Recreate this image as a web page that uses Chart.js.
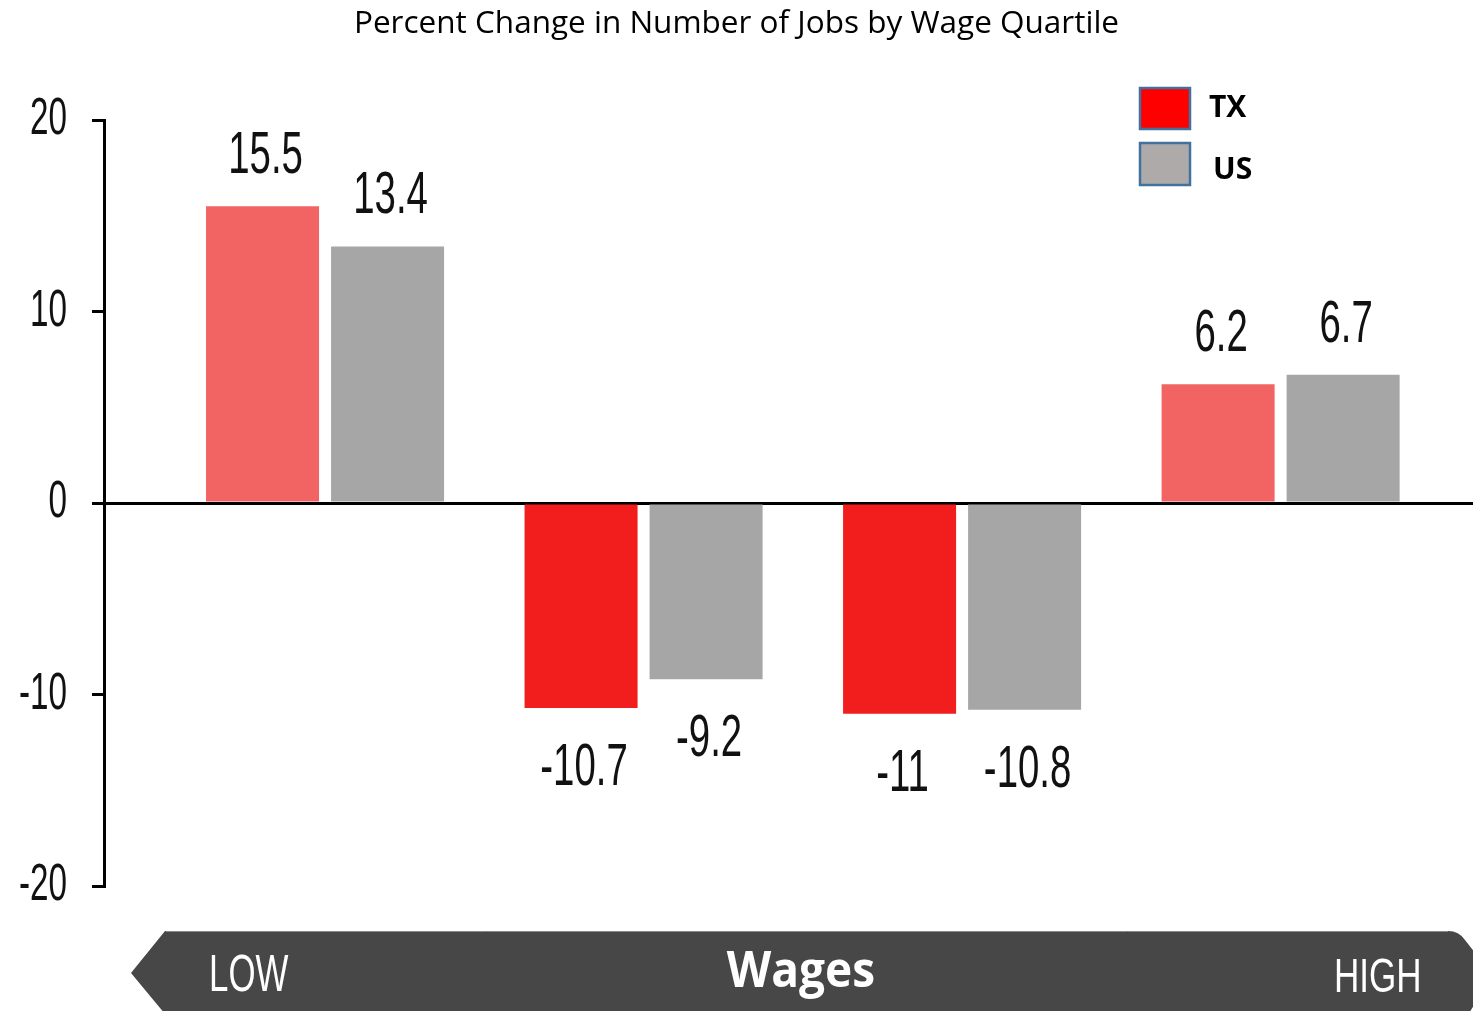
<!DOCTYPE html>
<html>
<head>
<meta charset="utf-8">
<script src="https://cdn.jsdelivr.net/npm/chart.js@4.4.0/dist/chart.umd.min.js"></script>
<style>
  html, body { margin: 0; padding: 0; background: #ffffff; }
  canvas { display: block; }
</style>
</head>
<body>
<canvas id="c" width="1473" height="1011"></canvas>
<script>
// ---- data ----
const chartTitle = 'Percent Change in Number of Jobs by Wage Quartile';
const quartiles = ['Lowest quartile', 'Second quartile', 'Third quartile', 'Highest quartile'];
const quartilePositions = [1, 2, 3, 4];
const seriesNames = ['TX', 'US'];
const txValues = [15.5, -10.7, -11, 6.2];
const usValues = [13.4, -9.2, -10.8, 6.7];
const yTickValues = [-20, -10, 0, 10, 20];
const wageAxisLabels = ['LOW', 'Wages', 'HIGH'];

// ---- styles ----
const TX_POS = '#F26363';
const TX_NEG = '#F21D1D';
const US_COLOR = '#A6A6A6';
const LEGEND_COLORS = ['#FF0000', '#AEAAAA'];
const LEGEND_BORDER = '#41719C';
const BANNER = '#474747';

function drawCondensed(ctx, text, x, y, font, scaleX, align, color) {
  ctx.save();
  ctx.font = font;
  ctx.textAlign = align;
  ctx.textBaseline = 'alphabetic';
  ctx.fillStyle = color;
  ctx.translate(x, y);
  ctx.scale(scaleX, 1);
  ctx.fillText(text, 0, 0);
  ctx.restore();
}

const condensedTicks = {
  id: 'condensedTicks',
  beforeDraw(chart) {
    const s = chart.scales.y;
    if (s._condensedWrapped) return;
    const orig = s.drawLabels.bind(s);
    s._computeLabelArea = () => undefined;
    s.drawLabels = function (area) {
      const ctx = this.ctx;
      const ax = this.right - this.options.grid.tickLength - this.options.ticks.padding;
      ctx.save();
      ctx.translate(ax, 0);
      ctx.scale(0.64, 1);
      ctx.translate(-ax, 0);
      orig(area);
      ctx.restore();
    };
    s._condensedWrapped = true;
  }
};

const valueLabels = {
  id: 'valueLabels',
  afterDatasetsDraw(chart) {
    const ctx = chart.ctx;
    chart.data.datasets.forEach((ds, di) => {
      const meta = chart.getDatasetMeta(di);
      meta.data.forEach((bar, i) => {
        const v = ds.data[i].y;
        const y = v >= 0 ? bar.y - 33 : bar.y + 77;
        drawCondensed(ctx, String(v), bar.x + 3, y, '60px "Liberation Sans"', 0.64, 'center', '#111111');
      });
    });
  }
};

const legendAndBanner = {
  id: 'legendAndBanner',
  afterDraw(chart) {
    const ctx = chart.ctx;
    // legend
    const boxes = [[1140, 88, 50, 41], [1140, 143, 50, 42]];
    const textPos = [[1209, 117], [1213, 179]];
    seriesNames.forEach((name, i) => {
      const b = boxes[i];
      ctx.save();
      ctx.fillStyle = LEGEND_COLORS[i];
      ctx.fillRect(b[0], b[1], b[2], b[3]);
      ctx.lineWidth = 2.5;
      ctx.strokeStyle = LEGEND_BORDER;
      ctx.strokeRect(b[0], b[1], b[2], b[3]);
      ctx.font = 'bold 30px "Open Sans"';
      ctx.fillStyle = '#000';
      ctx.textAlign = 'left';
      ctx.textBaseline = 'alphabetic';
      ctx.fillText(name, textPos[i][0], textPos[i][1]);
      ctx.restore();
    });

    // wage arrow banner
    ctx.save();
    ctx.fillStyle = BANNER;
    ctx.beginPath();
    ctx.moveTo(165, 931);
    ctx.lineTo(1448, 931);
    ctx.quadraticCurveTo(1459, 931, 1465, 940);
    ctx.lineTo(1492, 975);
    ctx.lineTo(1465, 1020);
    ctx.lineTo(170, 1020);
    ctx.lineTo(131, 973);
    ctx.closePath();
    ctx.fill();
    ctx.strokeStyle = '#8a8a8a';
    ctx.lineWidth = 1;
    ctx.beginPath();
    ctx.moveTo(166, 931.5);
    ctx.lineTo(1448, 931.5);
    ctx.stroke();
    ctx.restore();

    drawCondensed(ctx, wageAxisLabels[0], 209, 991, '52px "Liberation Sans"', 0.67, 'left', '#ffffff');
    drawCondensed(ctx, wageAxisLabels[1], 801, 987, 'bold 50px "Open Sans"', 0.92, 'center', '#ffffff');
    drawCondensed(ctx, wageAxisLabels[2], 1334, 992, '48px "Liberation Sans"', 0.73, 'left', '#ffffff');
  }
};

const toPoints = (vals) => quartilePositions.map((x, i) => ({ x: x, y: vals[i], q: quartiles[i] }));

new Chart(document.getElementById('c'), {
  type: 'bar',
  data: {
    datasets: [
      {
        label: seriesNames[0],
        data: toPoints(txValues),
        backgroundColor: (c) => (c.parsed && c.parsed.y < 0 ? TX_NEG : TX_POS),
        borderWidth: 0
      },
      {
        label: seriesNames[1],
        data: toPoints(usValues),
        backgroundColor: US_COLOR,
        borderWidth: 0
      }
    ]
  },
  options: {
    responsive: false,
    animation: false,
    categoryPercentage: 0.785,
    barPercentage: 0.904,
    layout: { padding: { top: 0, left: 0, right: 0, bottom: 125 } },
    plugins: {
      legend: { display: false },
      tooltip: { enabled: false },
      title: {
        display: true,
        text: chartTitle,
        color: '#000000',
        font: { family: '"Open Sans"', size: 31.5, weight: 'normal', lineHeight: 1.2 },
        padding: { top: 5, bottom: 77.2 }
      }
    },
    scales: {
      x: {
        type: 'linear',
        display: false,
        offset: false,
        min: 0.306,
        max: 4.604,
        afterBuildTicks: (s) => { s.ticks = quartilePositions.map(v => ({ value: v })); }
      },
      y: {
        min: -20,
        max: 20,
        afterBuildTicks: (s) => { s.ticks = yTickValues.map(v => ({ value: v })); },
        afterFit: (s) => { s.width = 104; },
        border: { display: true, color: '#000000', width: 3 },
        grid: {
          color: (c) => (c.tick && c.tick.value === 0 ? '#000000' : 'rgba(0,0,0,0)'),
          lineWidth: 3,
          drawTicks: true,
          tickLength: 12,
          tickColor: '#000000',
          tickWidth: 3
        },
        ticks: {
          color: '#111111',
          padding: 25,
          font: { family: '"Liberation Sans"', size: 52 }
        }
      }
    }
  },
  plugins: [condensedTicks, valueLabels, legendAndBanner]
});
</script>
</body>
</html>
